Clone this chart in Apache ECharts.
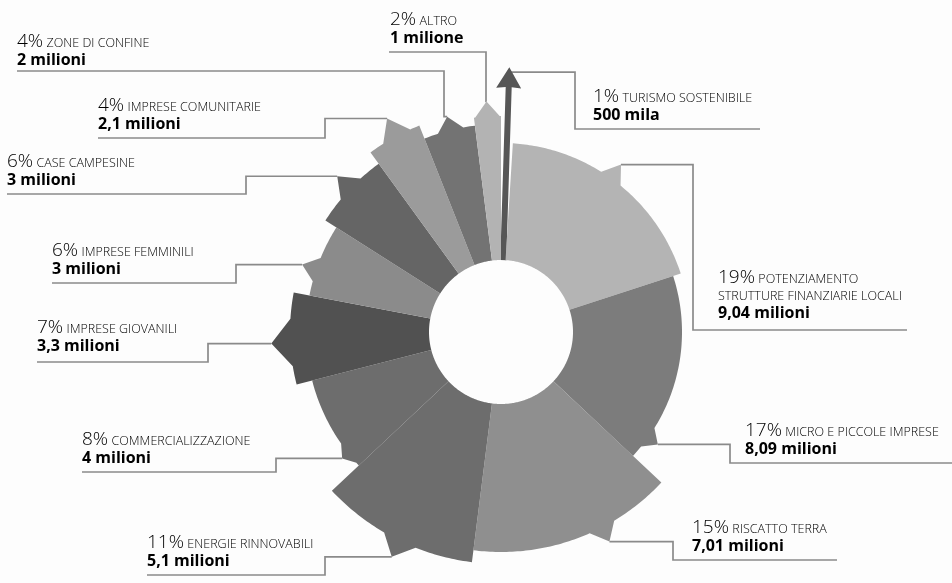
<!DOCTYPE html>
<html>
<head>
<meta charset="utf-8">
<script src="https://cdn.jsdelivr.net/npm/echarts@6/dist/echarts.min.js"></script>
<style>html,body{margin:0;padding:0;background:#fdfdfd;}#c{width:952px;height:583px;}</style>
</head>
<body>
<div id="c"></div>
<script>
// ---- data (clockwise from 12 o'clock) ----
const categories = ['TURISMO SOSTENIBILE', 'POTENZIAMENTO\nSTRUTTURE FINANZIARIE LOCALI', 'MICRO E PICCOLE IMPRESE', 'RISCATTO TERRA', 'ENERGIE RINNOVABILI', 'COMMERCIALIZZAZIONE', 'IMPRESE GIOVANILI', 'IMPRESE FEMMINILI', 'CASE CAMPESINE', 'IMPRESE COMUNITARIE', 'ZONE DI CONFINE', 'ALTRO'];
const shares = [1, 19, 17, 15, 11, 8, 7, 6, 6, 4, 4, 2];
const amounts = ['500 mila', '9,04 milioni', '8,09 milioni', '7,01 milioni', '5,1 milioni', '4 milioni', '3,3 milioni', '3 milioni', '3 milioni', '2,1 milioni', '2 milioni', '1 milione'];
// outer reach of each slice and of its pointed tip (radius units), tip position along the circle (percent units)
const reach = [265, 189, 181, 220, 232, 195, 211, 195, 208, 222, 208, 216];
const tipReach = [265, 206, 193, 236, 250, 203, 230, 210, 226, 242, 222, 231];
const tipAt = [0.5, 9.9, 34.9, 42.4, 57.2, 64.3, 74.2, 80.2, 87.1, 92.2, 96.1, 99.0];

// ---- layout / style (not data) ----
const innerReach = 72;
const tipHalf = [0, 1.0, 1.0, 1.0, 1.2, 1.0, 1.8, 1.0, 1.1, 1.1, 1.0, 0.9];
const colors = ['#565656', '#b4b4b4', '#7c7c7c', '#8f8f8f', '#6d6d6d', '#6d6d6d', '#515151', '#8b8b8b', '#656565', '#9b9b9b', '#737373', '#b3b3b3'];
const elbowX = [575, 693, 730, 673, 325, 276, 208, 236, 246, 325, 444, 486];
const lineY  = [129, 330, 463, 560, 575, 472, 362, 283, 194, 138, 71, 52];
const endX   = [760, 907, 952, 837, 147, 82, 37, 52, 7, 98, 17, 389];
const labelX = [593, 718, 745, 692, 147, 82, 37, 52, 7, 98, 17, 390];
const labelGap = [4, 7, 4, 4, 4, 4, 6, 4, 4, 4, 1, 4];

const cum = [];
let acc = 0;
shares.forEach(s => { cum.push([acc, acc + s]); acc += s; });
const seriesData = shares.map((s, i) => [cum[i][0], cum[i][1], reach[i], tipAt[i], tipReach[i]]);

const rich = {
  p: { fontFamily: 'Open Sans', fontSize: 19, fontWeight: 300, color: '#7d7d7d', lineHeight: 20, verticalAlign: 'bottom' },
  c: { fontFamily: 'Open Sans', fontSize: 12.5, fontWeight: 300, color: '#7a7a7a', lineHeight: 17, verticalAlign: 'bottom', padding: [0, 0, 1, 0] },
  v: { fontFamily: 'Open Sans', fontSize: 16, fontWeight: 'bold', color: '#505050', lineHeight: 19 }
};

function labelText(i) {
  const cat = categories[i].split('\n');
  let t = '{p|' + shares[i] + '%} {c|' + cat[0] + '}';
  for (let k = 1; k < cat.length; k++) t += '\n{c|' + cat[k] + '}';
  return t + '\n{v|' + amounts[i] + '}';
}

function renderItem(params, api) {
  const i = params.dataIndex;
  const a0 = api.value(0), a1 = api.value(1), R = api.value(2), s = api.value(3), T = api.value(4);
  const c = (r, a) => api.coord([r, a]);
  const children = [];
  let tip;
  if (i === 0) {
    const m = (a0 + a1) / 2;
    const o = c(0, m), e = c(T, m);
    const L = Math.hypot(e[0] - o[0], e[1] - o[1]);
    const u = [(e[0] - o[0]) / L, (e[1] - o[1]) / L], n = [-u[1], u[0]];
    const at = (r, off) => [o[0] + u[0] * r + n[0] * off, o[1] + u[1] * r + n[1] * off];
    const headBase = T - 21;
    children.push({ type: 'polygon', z2: 10, shape: { points: [
      at(innerReach, -3), at(headBase + 1, -3), at(headBase, -12.5), at(T, 0), at(headBase, 12.5), at(headBase + 1, 3), at(innerReach, 3)
    ] }, style: { fill: colors[i] } });
    tip = [e[0], e[1] + 5];
  } else {
    const sl = Math.max(a0, s - tipHalf[i]), sr = Math.min(a1, s + tipHalf[i]);
    const pts = [];
    let done = false;
    const step = 0.2;
    for (let a = a0; a <= a1 + 1e-9; a += step) {
      const aa = Math.min(a, a1);
      if (aa > sl && aa < sr) continue;
      if (!done && aa >= sr) {
        pts.push(c(R, sl), c(T, s), c(R, sr));
        done = true;
      }
      pts.push(c(R, aa));
    }
    if (!done) pts.push(c(R, sl), c(T, s), c(R, sr));
    pts.push(c(R, a1));
    for (let a = a1; a >= a0 - 1e-9; a -= step) pts.push(c(innerReach, Math.max(a, a0)));
    pts.push(c(innerReach, a0));
    children.push({ type: 'polygon', z2: 10, shape: { points: pts }, style: { fill: colors[i] } });
    tip = c(T, s);
  }
  children.push({
    type: 'polyline', z2: 1,
    shape: { points: [tip, [elbowX[i], tip[1]], [elbowX[i], lineY[i]], [endX[i], lineY[i]]] },
    style: { stroke: '#8a8a8a', lineWidth: 1.7, fill: null }
  });
  children.push({
    type: 'text', z2: 20, x: labelX[i], y: lineY[i] - labelGap[i],
    style: { text: labelText(i), rich: rich, align: 'left', verticalAlign: 'bottom', textAlign: 'left', textVerticalAlign: 'bottom' }
  });
  return { type: 'group', children: children };
}

const chart = echarts.init(document.getElementById('c'), null, { renderer: 'canvas' });
chart.setOption({
  backgroundColor: '#fdfdfd',
  animation: false,
  polar: { center: [501, 332], radius: 265 },
  radiusAxis: { type: 'value', min: 0, max: 265, show: false },
  angleAxis: { type: 'value', min: 0, max: 100, startAngle: 90, clockwise: true, show: false },
  series: [{
    type: 'custom',
    coordinateSystem: 'polar',
    encode: { radius: 2, angle: 0 },
    renderItem: renderItem,
    data: seriesData,
    silent: true
  }]
});
</script>
</body>
</html>
